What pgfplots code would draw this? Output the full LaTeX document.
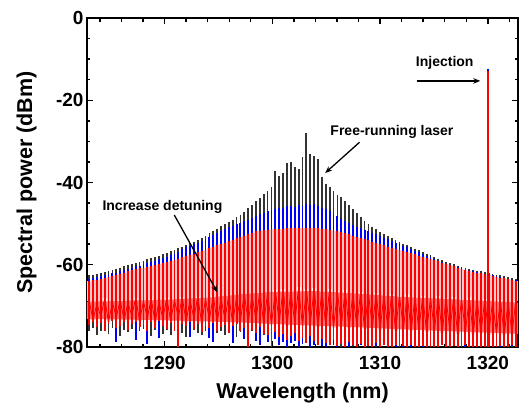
\documentclass[border=0pt]{standalone}
\usepackage{pgfplots}
\pgfplotsset{compat=1.18}
\usepackage{pgfplotstable}
\usepackage{fontspec}
\setmainfont{Liberation Sans}
\usetikzlibrary{arrows.meta}

\pgfplotstableread{
x k kf b bf r rf n
1283.00 -62.6 -76.2 -63.4 -74.2 -64.0 -74.6 -68.8
1283.36 -62.4 -75.5 -63.3 -73.4 -63.8 -73.8 -73.4
1283.72 -62.2 -77.0 -63.0 -74.8 -63.6 -75.2 -69.5
1284.08 -62.0 -76.1 -62.8 -73.7 -63.4 -74.1 -72.6
1284.44 -61.8 -75.8 -62.6 -75.6 -63.2 -76.0 -68.2
1284.80 -61.5 -76.9 -62.4 -74.0 -63.0 -74.4 -73.9
1285.16 -61.2 -75.4 -62.1 -73.2 -62.7 -73.6 -69.1
1285.52 -61.0 -76.6 -61.9 -78.9 -62.4 -75.5 -72.8
1285.88 -60.7 -77.3 -61.6 -74.4 -62.2 -74.8 -68.5
1286.24 -60.4 -75.9 -61.3 -73.6 -61.9 -74.0 -73.5
1286.60 -60.1 -76.4 -61.0 -75.4 -61.6 -75.8 -69.3
1286.96 -59.8 -75.7 -60.7 -73.9 -61.3 -74.3 -72.4
1287.32 -59.6 -77.1 -60.4 -78.2 -61.0 -73.9 -68.0
1287.68 -59.3 -76.0 -60.2 -74.7 -60.8 -75.1 -73.7
1288.04 -59.0 -75.6 -59.9 -74.2 -60.8 -74.6 -68.9
1288.40 -58.7 -76.8 -59.6 -79.3 -60.5 -76.2 -72.9
1288.76 -58.4 -77.4 -59.3 -73.6 -60.3 -74.0 -68.3
1289.12 -58.1 -75.8 -59.0 -74.9 -60.1 -75.3 -74.0
1289.48 -57.8 -76.3 -58.7 -77.8 -59.8 -73.7 -69.0
1289.84 -57.4 -76.9 -58.4 -74.5 -59.6 -74.9 -73.1
1290.20 -57.1 -75.9 -58.0 -75.2 -59.3 -75.6 -68.1
1290.56 -56.7 -77.2 -57.6 -73.8 -59.0 -74.2 -73.6
1290.92 -56.4 -76.1 -57.3 -75.7 -58.8 -76.1 -68.7
1291.28 -56.0 -75.5 -56.9 -77.1 -58.5 -80.0 -72.7
1291.64 -55.6 -76.7 -56.2 -74.1 -58.2 -74.5 -67.9
1292.00 -55.2 -77.5 -55.8 -74.6 -57.9 -75.0 -73.8
1292.36 -54.8 -76.0 -55.4 -77.6 -57.6 -73.9 -68.6
1292.72 -54.4 -75.8 -55.0 -75.3 -57.3 -75.7 -73.0
1293.08 -53.9 -76.6 -54.6 -73.9 -57.0 -74.3 -67.8
1293.44 -53.4 -77.0 -54.2 -76.0 -56.6 -76.4 -74.1
1293.80 -52.9 -76.2 -53.7 -74.4 -56.3 -74.8 -68.4
1294.16 -52.4 -75.7 -53.3 -77.7 -56.0 -75.3 -73.3
1294.52 -51.8 -77.3 -52.8 -78.8 -55.6 -74.1 -67.6
1294.88 -51.2 -76.5 -52.4 -75.6 -55.2 -76.0 -73.9
1295.24 -50.6 -76.0 -51.9 -74.8 -54.9 -75.2 -68.2
1295.60 -50.1 -77.1 -51.4 -74.2 -54.6 -74.6 -73.2
1295.96 -49.5 -75.9 -50.9 -76.1 -54.2 -76.5 -67.4
1296.32 -49.0 -76.8 -50.5 -79.0 -53.9 -75.0 -74.2
1296.68 -48.4 -77.6 -50.0 -74.0 -53.6 -74.4 -67.9
1297.04 -47.8 -76.3 -49.9 -75.8 -53.2 -76.2 -73.5
1297.40 -47.2 -76.9 -49.4 -78.0 -52.9 -75.5 -67.0
1297.76 -46.3 -77.4 -49.0 -79.2 -52.6 -80.0 -74.0
1298.12 -45.5 -76.2 -48.6 -75.5 -52.3 -75.9 -67.5
1298.48 -44.6 -77.8 -48.1 -78.6 -51.9 -76.6 -73.4
1298.84 -43.8 -76.6 -47.7 -79.5 -51.7 -75.1 -66.6
1299.20 -42.9 -77.2 -47.3 -76.4 -51.6 -76.8 -74.3
1299.56 -42.1 -78.0 -47.0 -78.9 -51.5 -77.0 -66.9
1299.92 -41.0 -76.9 -46.7 -79.8 -51.4 -80.0 -74.6
1300.28 -37.2 -77.5 -46.5 -78.1 -51.3 -76.3 -66.2
1300.64 -38.5 -78.3 -46.3 -79.4 -51.2 -77.5 -74.1
1301.00 -37.6 -77.9 -46.1 -78.7 -51.2 -76.9 -65.8
1301.36 -35.3 -79.2 -45.8 -80.0 -51.1 -78.2 -74.8
1301.72 -35.1 -78.4 -45.6 -79.1 -51.0 -77.4 -66.4
1302.08 -36.2 -77.6 -45.9 -78.5 -51.0 -76.7 -74.2
1302.44 -36.8 -79.5 -45.4 -79.9 -51.0 -78.5 -65.5
1302.80 -33.8 -78.1 -45.7 -79.3 -51.0 -77.8 -75.0
1303.16 -28.0 -78.8 -45.2 -78.8 -51.0 -79.1 -66.0
1303.52 -33.0 -79.6 -45.5 -80.0 -51.0 -77.3 -74.5
1303.88 -33.6 -78.0 -45.3 -79.6 -51.1 -78.6 -65.7
1304.24 -34.2 -79.0 -45.8 -78.9 -51.1 -79.4 -75.2
1304.60 -38.6 -78.5 -46.1 -79.7 -51.2 -78.0 -66.3
1304.96 -40.3 -79.8 -46.5 -80.0 -51.3 -79.0 -74.7
1305.32 -41.0 -78.2 -47.0 -79.0 -51.5 -79.6 -65.9
1305.68 -42.1 -79.3 -47.6 -79.5 -51.7 -78.4 -75.3
1306.04 -43.0 -78.7 -48.2 -80.0 -51.9 -79.8 -66.5
1306.40 -43.6 -79.9 -48.9 -78.6 -52.1 -79.2 -74.9
1306.76 -44.6 -78.4 -49.4 -79.8 -52.3 -80.0 -66.1
1307.12 -45.5 -79.1 -49.9 -80.0 -52.6 -78.8 -75.5
1307.48 -46.5 -79.7 -50.3 -79.2 -52.9 -79.5 -66.8
1307.84 -47.5 -78.6 -50.7 -80.0 -53.2 -80.0 -75.0
1308.20 -48.4 -79.4 -51.1 -79.6 -53.5 -79.3 -66.6
1308.56 -49.3 -80.0 -51.5 -80.0 -53.8 -80.0 -75.6
1308.92 -50.1 -78.9 -51.9 -79.1 -54.1 -79.7 -67.0
1309.28 -50.8 -79.6 -52.3 -80.0 -54.4 -80.0 -75.2
1309.64 -51.4 -80.0 -52.6 -79.7 -54.7 -79.0 -66.9
1310.00 -52.0 -79.2 -53.0 -80.0 -55.0 -80.0 -75.8
1310.36 -52.5 -78.8 -53.4 -79.4 -55.3 -79.6 -67.3
1310.72 -53.0 -80.0 -53.8 -80.0 -55.6 -80.0 -75.4
1311.08 -53.5 -79.5 -54.2 -79.8 -55.9 -80.0 -67.1
1311.44 -54.0 -79.0 -54.6 -80.0 -56.1 -79.4 -76.0
1311.80 -54.4 -80.0 -55.0 -79.3 -56.4 -80.0 -67.5
1312.16 -54.9 -79.3 -55.4 -80.0 -56.7 -79.8 -75.7
1312.52 -55.3 -79.8 -55.8 -79.9 -57.0 -80.0 -67.2
1312.88 -55.7 -80.0 -56.2 -80.0 -57.2 -79.5 -76.2
1313.24 -56.1 -79.1 -56.6 -79.5 -57.5 -80.0 -67.8
1313.60 -56.5 -79.7 -57.0 -80.0 -57.8 -80.0 -75.9
1313.96 -56.9 -80.0 -57.4 -80.0 -58.0 -79.7 -67.6
1314.32 -57.3 -79.4 -57.8 -79.6 -58.3 -80.0 -76.4
1314.68 -57.7 -80.0 -58.2 -80.0 -58.6 -79.9 -68.0
1315.04 -58.1 -79.6 -58.6 -79.8 -58.9 -80.0 -76.1
1315.40 -58.5 -80.0 -59.0 -80.0 -59.2 -80.0 -67.7
1315.76 -58.9 -79.2 -59.3 -79.4 -59.5 -79.6 -76.6
1316.12 -59.3 -79.9 -59.7 -80.0 -59.8 -80.0 -68.2
1316.48 -59.6 -80.0 -60.0 -80.0 -60.1 -80.0 -76.0
1316.84 -59.9 -79.5 -60.3 -79.7 -60.4 -79.8 -67.9
1317.20 -60.2 -80.0 -60.6 -80.0 -60.7 -80.0 -76.8
1317.56 -60.5 -79.8 -60.9 -79.9 -61.0 -80.0 -68.4
1317.92 -60.8 -80.0 -61.2 -80.0 -61.3 -79.5 -76.3
1318.28 -61.0 -79.3 -61.4 -80.0 -61.5 -80.0 -68.1
1318.64 -61.2 -80.0 -61.6 -79.5 -61.7 -80.0 -76.9
1319.00 -61.4 -79.7 -61.8 -80.0 -61.9 -79.9 -68.6
1319.36 -61.6 -80.0 -62.0 -79.8 -62.1 -80.0 -76.5
1319.72 -61.8 -79.4 -62.2 -80.0 -62.3 -80.0 -68.3
1320.08 -62.0 -80.0 -62.4 -80.0 -62.5 -79.7 -77.0
1320.44 -62.2 -79.9 -62.6 -79.6 -62.7 -80.0 -68.8
1320.80 -62.4 -80.0 -62.8 -80.0 -62.9 -80.0 -76.7
1321.16 -62.6 -79.6 -63.0 -80.0 -63.1 -79.8 -68.5
1321.52 -62.8 -80.0 -63.2 -79.9 -63.3 -80.0 -77.2
1321.88 -63.0 -79.8 -63.4 -80.0 -63.5 -80.0 -69.0
1322.24 -63.2 -80.0 -63.6 -79.7 -63.7 -79.6 -76.8
1322.60 -63.4 -79.5 -63.8 -80.0 -64.0 -80.0 -68.7
}\spec

\begin{document}
\begin{tikzpicture}
\path[use as bounding box] (-87pt,-60pt) rectangle (432pt,347pt);
\begin{axis}[
  at={(0,0)}, anchor=south west,
  scale only axis, width=431pt, height=329pt,
  xmin=1282.8, xmax=1322.8, ymin=-80, ymax=0,
  xtick={1290,1300,1310,1320}, xticklabels={1290,1300,1310,1320},
  minor xtick={1284,1286,1288,1292,1294,1296,1298,1302,1304,1306,1308,1312,1314,1316,1318,1322},
  ytick={-80,-60,-40,-20,0}, yticklabels={-80,-60,-40,-20,0},
  minor ytick={-75,-70,-65,-55,-50,-45,-35,-30,-25,-15,-10,-5},
  tick align=inside,
  major tick length=6pt, minor tick length=3.5pt,
  tick style={line width=1.4pt, black},
  axis line style={line width=1.8pt},
  tick label style={font=\fontsize{19}{22}\selectfont\bfseries},
  xticklabel style={yshift=-6pt},
  xlabel={Wavelength (nm)}, ylabel={Spectral power (dBm)},
  label style={font=\fontsize{21.5}{24}\selectfont\bfseries},
  xlabel style={at={(axis description cs:0.5,-0.14)}, anchor=center},
  ylabel style={at={(axis description cs:-0.140,0.5)}, anchor=center},
  clip=true,
]
% free-running (black)
\addplot[draw=none, mark=none, forget plot,
  error bars/.cd, y dir=minus, y explicit, error mark=none,
  error bar style={draw=black!80, line width=1.8pt}]
  table[x=x, y=k, y error expr=\thisrow{k}-\thisrow{kf}] {\spec};
% blue (intermediate detuning)
\addplot[draw=none, mark=none, forget plot,
  error bars/.cd, y dir=minus, y explicit, error mark=none,
  error bar style={draw=blue, line width=1.9pt}]
  table[x=x, y=b, y error expr=\thisrow{b}-\thisrow{bf}] {\spec};
% red (largest detuning) underlay
\addplot[draw=none, mark=none, forget plot,
  error bars/.cd, y dir=minus, y explicit, error mark=none,
  error bar style={draw=red!22, line width=3.9pt}]
  table[x=x, y=r, y error expr=\thisrow{r}-\thisrow{n}] {\spec};
% dense noise band of the injected spectrum (closed polygon: upper edge, then lower edge back)
\addplot[fill=red!55, draw=none, mark=none, forget plot] coordinates {
 (1282.8,-69.0) (1286,-68.8) (1290,-68.5) (1294,-68.0) (1297,-67.2) (1300,-66.6)
 (1304,-66.4) (1308,-67.0) (1312,-67.8) (1316,-68.3) (1320,-68.8) (1322.8,-69.2)
 (1322.8,-76.8) (1320,-76.5) (1316,-76.1) (1312,-75.7) (1308,-75.2) (1304,-74.8)
 (1300,-74.4) (1297,-74.0) (1294,-73.8) (1290,-73.5) (1286,-73.3) (1282.8,-73.2)} -- cycle;
% red lines
\addplot[draw=none, mark=none, forget plot,
  error bars/.cd, y dir=minus, y explicit, error mark=none,
  error bar style={draw=red, line width=1.9pt}]
  table[x=x, y=r, y error expr=\thisrow{r}-\thisrow{rf}] {\spec};
% red noise floor
\addplot[draw=red, line width=0.8pt, mark=none, forget plot] table[x=x, y=n] {\spec};
% injection line
\addplot[draw=black, line width=2.6pt, mark=none, forget plot] coordinates {(1320.0,-80) (1320.0,-70)};
\addplot[draw=blue, line width=1.5pt, mark=none, forget plot] coordinates {(1320.0,-20) (1320.0,-12.3)};
\addplot[draw=red, line width=1.5pt, mark=none, forget plot] coordinates {(1320.0,-80) (1320.0,-12.8)};
% annotations
\node[font=\fontsize{14}{16}\selectfont\bfseries] at (axis cs:1316.0,-11.0) {Injection};
\draw[-{Stealth[length=7pt,width=5.5pt]}, line width=1.3pt] (axis cs:1313.4,-15.3) -- (axis cs:1319.3,-15.3);
\node[font=\fontsize{14}{16}\selectfont\bfseries] at (axis cs:1311.1,-27.7) {Free-running laser};
\draw[-{Stealth[length=7pt,width=5.5pt]}, line width=1.3pt] (axis cs:1308.1,-30.2) -- (axis cs:1304.9,-37.7);
\node[font=\fontsize{14}{16}\selectfont\bfseries] at (axis cs:1289.8,-46.0) {Increase detuning};
\draw[-{Stealth[length=7pt,width=5.5pt]}, line width=1.3pt] (axis cs:1290.9,-47.9) -- (axis cs:1294.9,-66.7);
\end{axis}
\end{tikzpicture}
\end{document}
